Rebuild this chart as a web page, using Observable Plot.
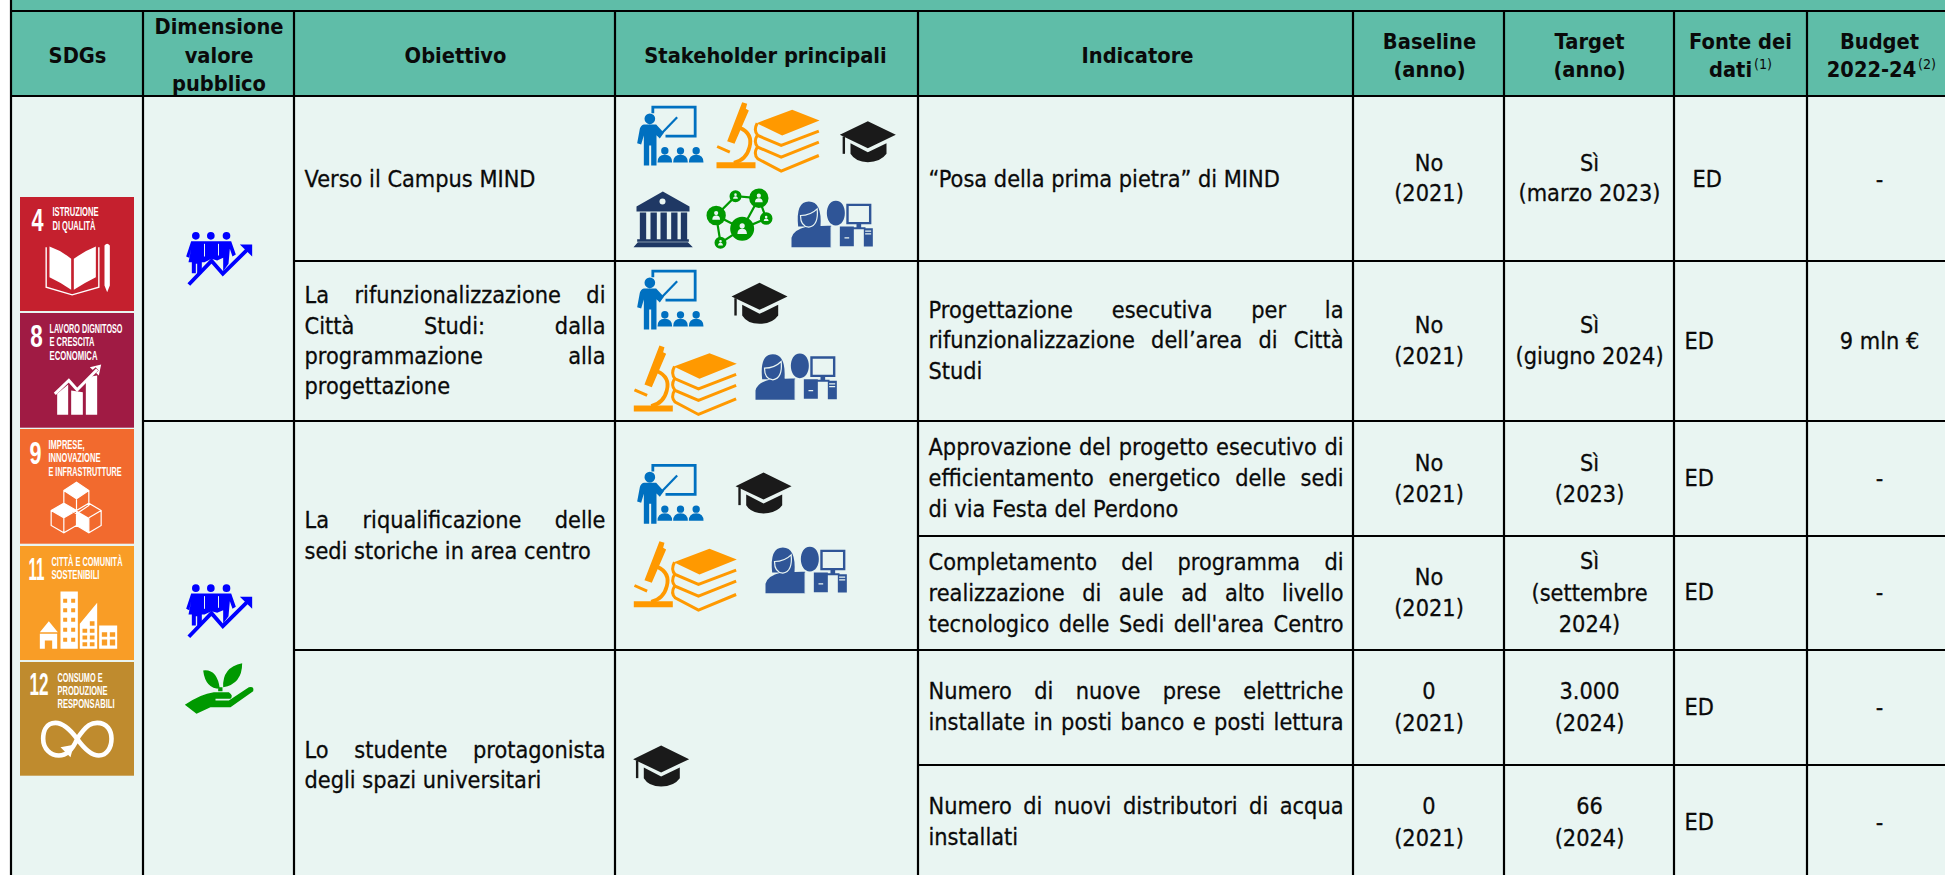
<!DOCTYPE html>
<html>
<head>
<meta charset="utf-8">
<script src="https://cdn.jsdelivr.net/npm/d3@7"></script>
<script src="https://cdn.jsdelivr.net/npm/@observablehq/plot@0.6"></script>
<style>html,body{margin:0;padding:0;background:#fff;overflow:hidden}svg{display:block}</style>
</head>
<body>
<div id="chart"></div>
<script>
// ---------- table content ----------
const headerLabels = [["SDGs"],["Dimensione","valore","pubblico"],["Obiettivo"],["Stakeholder principali"],["Indicatore"],["Baseline","(anno)"],["Target","(anno)"],["Fonte dei","dati"],["Budget","2022-24"]];
const headerNotes = ["(1)","(2)"];
const obiettivi = [["Verso il Campus MIND"],["La rifunzionalizzazione di","Città Studi: dalla","programmazione alla","progettazione"],["La riqualificazione delle","sedi storiche in area centro"],["Lo studente protagonista","degli spazi universitari"]];
const indicatori = [["“Posa della prima pietra” di MIND"],["Progettazione esecutiva per la","rifunzionalizzazione dell’area di Città","Studi"],["Approvazione del progetto esecutivo di","efficientamento energetico delle sedi","di via Festa del Perdono"],["Completamento del programma di","realizzazione di aule ad alto livello","tecnologico delle Sedi dell'area Centro"],["Numero di nuove prese elettriche","installate in posti banco e posti lettura"],["Numero di nuovi distributori di acqua","installati"]];
const baselineValues = [["No","(2021)"],["No","(2021)"],["No","(2021)"],["No","(2021)"],["0","(2021)"],["0","(2021)"]];
const targetValues = [["Sì","(marzo 2023)"],["Sì","(giugno 2024)"],["Sì","(2023)"],["Sì","(settembre","2024)"],["3.000","(2024)"],["66","(2024)"]];
const fonteValues = ["ED","ED","ED","ED","ED","ED"];
const budgetValues = ["-","9 mln €","-","-","-","-"];
const sdgNumbers = ["4","8","9","11","12"];
const sdgLabels = [["ISTRUZIONE","DI QUALITÀ"],["LAVORO DIGNITOSO","E CRESCITA","ECONOMICA"],["IMPRESE,","INNOVAZIONE","E INFRASTRUTTURE"],["CITTÀ E COMUNITÀ","SOSTENIBILI"],["CONSUMO E","PRODUZIONE","RESPONSABILI"]];

// ---------- layout ----------
const W = 1945, H = 875;
const FONT = "DejaVu Sans";
const BODY = 23;
const colLines = [10.5,142.5,293.5,614.5,917.5,1352.5,1503.5,1673.5,1806.5];
const headerBaselines = [[62],[33,62,90],[62],[62],[62],[48,76],[48,76],[48,76],[48,76]];
const headerCenters = [77,218.5,455,765,1137,1429,1589,1740,1879];
const obiettivoBaselines = [[186],[302,333,363,393],[527,558],[757,787]];
const indicatoreBaselines = [[186],[317,347,378],[454,485,516],[569,600,631],[698,729],[813,844]];
const baselineBaselines = [[170,200],[332,363],[470,501],[584,615],[698,730],[813,845]];
const targetBaselines = [[170,200],[332,363],[470,501],[568,600,631],[698,730],[813,845]];
const fonteBaselines = [186,348,485,599,714,829];
const fonteX = [1692,1684,1684,1684,1684,1684];
const justified = new Set(["La rifunzionalizzazione di","Città Studi: dalla","programmazione alla","La riqualificazione delle","Lo studente protagonista","Progettazione esecutiva per la","rifunzionalizzazione dell’area di Città","Approvazione del progetto esecutivo di","efficientamento energetico delle sedi","Completamento del programma di","realizzazione di aule ad alto livello","tecnologico delle Sedi dell'area Centro","Numero di nuove prese elettriche","installate in posti banco e posti lettura","Numero di nuovi distributori di acqua"]);

const tileBoxes = [[20,134,197,311,"#c5202e"],[20,134,313,427.7,"#a01b44"],[20,134,429,543.7,"#f26a2e"],[20,134,546,660,"#f99d26"],[20,134,662,775.7,"#bf8b2e"]];
const tileNumberLayout = [[37,230,12],[36,346,12.5],[35,463,12],[36,579,16],[38.5,694,19]];
const tileLabelLayout = [
 [[52,215.7,46],[52,229,43]],
 [[49,332,73],[49,345.7,45],[49,359,48]],
 [[48,448,36],[48,461.7,52],[48,475.7,73]],
 [[51,565,71],[51,578,48]],
 [[57,681,45],[57,694,50],[57,707.7,57]]
];

// ---------- text helpers ----------
const ctx = document.createElement("canvas").getContext("2d");
const measure = (s, size, weight) => { ctx.font = `${weight} ${size}px "${FONT}"`; return ctx.measureText(s).width; };
const fxNormal = 231 / measure("Verso il Campus MIND", BODY, "normal");
const fxBold = 129 / measure("Dimensione", 22, "bold");

function fitted(rows, size, weight, fx) {
  return function(index, scales, values, dims, context, next) {
    const g = next(index, scales, values, dims, context);
    g.querySelectorAll("text").forEach((el, i) => {
      const d = rows[index[i]];
      const natural = measure(d.t, size, weight);
      if (d.w) {
        const gaps = d.t.split(" ").length - 1;
        el.style.wordSpacing = `${(d.w / fx - natural) / gaps}px`;
        el.setAttribute("textLength", d.w);
      } else {
        el.setAttribute("textLength", natural * fx);
      }
      el.setAttribute("lengthAdjust", "spacingAndGlyphs");
    });
    return g;
  };
}
const textMark = (rows, anchor, size, weight, fx, heavy) =>
  Plot.text(rows, {x: "x", y: "y", text: "t", textAnchor: anchor, lineAnchor: "bottom", fill: "#0a0a0a", stroke: heavy ? "#0a0a0a" : "none", strokeWidth: heavy ? 0.3 : 0, fontFamily: FONT, fontSize: size, fontWeight: weight, render: fitted(rows, size, weight, fx)});

const centerRows = [], leftRows = [], boldRows = [], noteRows = [];
headerLabels.forEach((lines, c) => lines.forEach((t, i) => {
  let x = headerCenters[c];
  if (t === "dati") x = 1730;
  if (t === "2022-24") x = 1871;
  boldRows.push({t, x, y: headerBaselines[c][i]});
}));
noteRows.push({t: headerNotes[0], x: 1753.5, y: 68}, {t: headerNotes[1], x: 1917.5, y: 68});
obiettivi.forEach((lines, r) => lines.forEach((t, i) => leftRows.push({t, x: 304, y: obiettivoBaselines[r][i], w: justified.has(t) ? 301 : 0})));
indicatori.forEach((lines, r) => lines.forEach((t, i) => leftRows.push({t, x: 928, y: indicatoreBaselines[r][i], w: justified.has(t) ? 415 : 0})));
baselineValues.forEach((lines, r) => lines.forEach((t, i) => centerRows.push({t, x: 1428.5, y: baselineBaselines[r][i]})));
targetValues.forEach((lines, r) => lines.forEach((t, i) => centerRows.push({t, x: 1589, y: targetBaselines[r][i]})));
fonteValues.forEach((t, r) => leftRows.push({t, x: fonteX[r], y: fonteBaselines[r], w: 0}));
budgetValues.forEach((t, r) => centerRows.push({t, x: 1879, y: fonteBaselines[r]}));

// ---------- pictograms as custom dot symbols ----------
const BG = "#e9f5f2";
function pathSymbol(d) {
  const tokens = d.match(/[MLHVQCZO]|-?\d*\.?\d+/g);
  return {draw(c, size) {
    const k = Math.sqrt(size / Math.PI) / 30;
    let i = 0, px = 0, py = 0, cmd = "";
    const n = () => +tokens[i++] * k;
    while (i < tokens.length) {
      if (/[A-Z]/.test(tokens[i])) cmd = tokens[i++];
      if (cmd === "M") { px = n(); py = n(); c.moveTo(px, py); cmd = "L"; }
      else if (cmd === "L") { px = n(); py = n(); c.lineTo(px, py); }
      else if (cmd === "H") { px = n(); c.lineTo(px, py); }
      else if (cmd === "V") { py = n(); c.lineTo(px, py); }
      else if (cmd === "Q") { const a = n(), b = n(); px = n(); py = n(); c.quadraticCurveTo(a, b, px, py); }
      else if (cmd === "C") { const a = n(), b = n(), e = n(), f = n(); px = n(); py = n(); c.bezierCurveTo(a, b, e, f, px, py); }
      else if (cmd === "O") { const x = n(), y = n(), r = n(); c.moveTo(x + r, y); c.arc(x, y, r, 0, 2 * Math.PI); }
      else if (cmd === "Z") { c.closePath(); }
    }
  }};
}
const person = (x, y, r) => `O${x} ${y - r * .35} ${r * .3} M${x - r * .55} ${y + r * .6} Q${x - r * .55} ${y} ${x} ${y} Q${x + r * .55} ${y} ${x + r * .55} ${y + r * .6} Z`;
const circles = (list) => list.map(([x, y, r]) => `O${x} ${y} ${r}`).join(" ");
const rects = (list) => list.map(([x, y, w, h]) => `M${x} ${y} H${x + w} V${y + h} H${x} Z`).join(" ");
const aud = (x) => `O${x} 151 11 M${x - 22} 186 Q${x - 22} 163 ${x} 163 Q${x + 22} 163 ${x + 22} 186 Z`;

const iconShapes = {
  teacher: [
    {stroke: "#0070c0", sw: 2.8, d: "M157 38 V20 H284 V107 H195"},
    {stroke: "#0070c0", sw: 2.2, d: "M178 104 L230 50"},
    {fill: "#0070c0", d: "O148 55 16 M130 72 H167 L190 97 L178 114 L168 104 V195 H152 V135 H146 V195 H130 V105 L122 132 L110 128 L118 85 Q121 74 130 72 Z " + aud(193) + " " + aud(240) + " " + aud(287)}
  ],
  lab: [
    {fill: "#ff9900", d: "M425 5 L440 10 L436 25 L445 30 L402 130 L380 122 Z " + rects([[348, 185, 117, 18]]) + " M468 68 L575 28 L657 60 L545 105 Z"},
    {stroke: "#ff9900", sw: 3.8, d: "M418 82 Q458 100 447 140 Q438 178 400 187"},
    {stroke: "#ff9900", sw: 3, d: "M350 138 L388 155 M470 68 Q458 90 472 105 L542 135 L655 92 M470 105 Q458 125 472 140 L542 170 L655 125 M470 140 Q458 160 472 175 L542 212 L655 165"}
  ],
  cap: [
    {fill: "#1a1a1a", d: "M718 103 L802 62 L886 103 L802 143 Z M750 128 L802 155 L858 128 V160 Q840 185 802 185 Q765 185 750 160 Z"},
    {stroke: "#1a1a1a", sw: 2.4, d: "M730 108 V160"}
  ],
  bank: [
    {fill: "#1f3864", d: "M108 318 L187 273 L267 318 V333 H108 Z " + rects([[118, 336, 19, 80], [150, 336, 19, 80], [180, 336, 19, 80], [212, 336, 19, 80], [241, 336, 19, 80], [110, 416, 155, 8]]) + " M99 440 L112 425 H262 L277 440 Z"},
    {fill: BG, d: "O186 303 9"}
  ],
  network: [
    {stroke: "#009900", sw: 2.2, d: "M347 345 L405 287 L475 293 L425 385 L347 345 L360 427 L425 385 M475 293 L497 354 L425 385"},
    {fill: "#009900", d: circles([[425, 385, 36], [347, 345, 29], [475, 293, 29], [405, 287, 18], [497, 354, 19], [360, 427, 18]])},
    {fill: BG, d: [person(425, 385, 26), person(347, 345, 21), person(475, 293, 21), person(405, 287, 13), person(497, 354, 13), person(360, 427, 13)].join(" ")}
  ],
  staff: [
    {fill: "#2f5597", d: "M593 378 Q585 303 625 303 Q665 303 660 378 Z M573 440 V412 Q578 388 620 378 L682 376 H692 V440 Z M706 301 C742 301 742 375 706 375 C670 375 670 301 706 301 Z M695 378 H760 V437 H718 V378 Z " + rects([[755, 380, 40, 6], [768, 366, 14, 16], [790, 383, 27, 55]])},
    {stroke: "#2f5597", sw: 2.4, d: "M741 313 H809 V368 H741 Z"},
    {stroke: BG, sw: 1.2, d: "M600 345 Q630 345 650 325 Q655 375 625 380 Q600 378 600 345 Z M692 378 V440 M701 378 L706 435 L713 378 M732 412 H746 M794 392 H812 M794 400 H812"}
  ],
  people: [
    {fill: "#0000ff", d: circles([[586, 166, 11.5], [631, 166, 11.5], [678, 166, 11.5]]) + " M572 182 H692 L706 222 L696 228 L688 205 L684 250 L668 272 V232 L650 240 L633 235 L612 245 H604 V278 H590 V250 H586 V278 H574 V245 H564 L572 205 L566 232 L557 228 Z M718 192 H755 V228 Z"},
    {stroke: BG, sw: 1, d: "M612 190 V228 M654 190 V225"},
    {stroke: "#0000ff", sw: 3.8, d: "M565 312 L633 241 L667 280 L745 203"}
  ],
  hand: [
    {fill: "#009900", d: "M608 570 Q650 565 658 625 Q615 625 608 570 Z M725 548 Q725 610 668 620 Q665 560 725 548 Z M653 620 H666 V632 H653 Z M553 673 Q600 640 640 635 H685 Q700 645 690 655 H645 V660 H685 L745 620 Q762 616 758 632 L690 680 H630 L588 700 Z"}
  ],
  tileBook: [
    {fill: "#fff", d: "M147 198 Q182 210 212 235 V328 Q180 305 147 290 Z M220 235 Q255 210 286 198 V290 Q255 305 220 328 Z M312 195 Q320 185 328 195 V315 L320 335 L312 315 Z"},
    {stroke: "#fff", sw: 1.4, d: "M137 200 V320 L215 343 L295 320 V200"}
  ],
  tileGrowth: [
    {fill: "#fff", d: "M170 640 L203 612 V703 H170 Z M212 630 L247 635 V703 H212 Z M256 590 L290 585 V703 H256 Z M268 560 L302 552 L295 585 Z"},
    {stroke: "#a01b44", sw: 4.5, d: "M150 640 L205 590 L230 618 L290 565"},
    {stroke: "#fff", sw: 3, d: "M163 640 L205 600 L230 628 L290 567"}
  ],
  tileCubes: [
    {fill: "#fff", d: "M228 5 L265 30 L228 55 L190 30 Z M152 90 L190 68 L228 90 L190 112 Z M228 90 L265 112 V157 L228 135 Z"},
    {stroke: "#fff", sw: 1.2, d: "M190 30 L228 5 L265 30 V75 L228 100 L190 75 Z M190 30 L228 55 L265 30 M228 55 V100 M152 90 L190 68 L228 90 V135 L190 157 L152 135 Z M152 90 L190 112 L228 90 M190 112 V157 M228 90 L265 68 L302 90 V135 L265 157 L228 135 Z M265 112 L302 90 M265 112 V157"}
  ],
  tileCity: [
    {fill: "#fff", d: "M118 455 L145 422 L172 455 Z M118 460 H170 V505 H155 V480 H133 V505 H118 Z M180 333 H232 V505 H180 Z M238 505 V430 L290 367 V505 Z M296 435 H350 V505 H296 Z"},
    {fill: "#f99d26", d: rects([[188, 355, 12, 12], [212, 355, 12, 12], [188, 383, 12, 12], [212, 383, 12, 12], [188, 412, 12, 12], [212, 412, 12, 12], [188, 442, 12, 12], [212, 442, 12, 12], [188, 472, 12, 12], [212, 472, 12, 12], [246, 445, 14, 12], [268, 445, 14, 12], [246, 465, 14, 12], [268, 465, 14, 12], [246, 485, 14, 12], [268, 485, 14, 12], [268, 422, 14, 14], [304, 455, 16, 14], [328, 455, 16, 14], [304, 477, 16, 18], [328, 477, 16, 18]])}
  ],
  tileLoop: [
    {stroke: "#fff", sw: 4.6, d: "M230 775 C200 735 180 727 165 727 C135 727 128 755 128 775 C128 805 150 825 175 825 C195 825 215 810 230 775 C260 730 275 727 290 727 C320 727 333 750 333 775 C333 800 320 825 295 825 C275 825 255 810 230 775"},
    {fill: "#fff", d: "M180 800 L220 793 L210 830 Z"}
  ]
};
const iconPlacements = [
  ["people", 0, 180], ["people", 0, 532.3], ["hand", 0, 480],
  ["teacher", 600, 100], ["lab", 600, 100], ["cap", 600, 100], ["bank", 600, 100], ["network", 600, 100], ["staff", 600, 100],
  ["teacher", 600, 264], ["cap", 491.7, 261.7], ["lab", 517.3, 343.3], ["staff", 564, 252.7],
  ["teacher", 600, 458.3], ["cap", 495.7, 451.3], ["lab", 517.3, 539], ["staff", 574, 446],
  ["cap", 393.3, 724.3],
  ["tileBook", 0, 180], ["tileGrowth", 0, 180], ["tileCubes", 0, 480], ["tileCity", 0, 480], ["tileLoop", 0, 480]
].map(([icon, x, y]) => ({icon, x, y}));

const iconMarks = Object.entries(iconShapes).flatMap(([name, layers]) => {
  const at = iconPlacements.filter(d => d.icon === name);
  return layers.map(l => Plot.dot(at, {x: "x", y: "y", r: 10, symbol: pathSymbol(l.d), fill: l.fill ?? "none", stroke: l.stroke ?? "none", strokeWidth: l.sw ?? 0}));
});

// ---------- tiles ----------
const tileRows = tileBoxes.map(([x1, x2, y1, y2, c]) => ({x1, x2, y1, y2, c}));
const numberRows = sdgNumbers.map((t, i) => ({t, x: tileNumberLayout[i][0], y: tileNumberLayout[i][1], w: tileNumberLayout[i][2]}));
const labelRows = sdgLabels.flatMap((lines, i) => lines.map((t, j) => ({t, x: tileLabelLayout[i][j][0], y: tileLabelLayout[i][j][1], w: tileLabelLayout[i][j][2]})));
function squeeze(rows) {
  return function(index, scales, values, dims, context, next) {
    const g = next(index, scales, values, dims, context);
    g.querySelectorAll("text").forEach((el, i) => {
      el.setAttribute("textLength", rows[index[i]].w);
      el.setAttribute("lengthAdjust", "spacingAndGlyphs");
    });
    return g;
  };
}

// ---------- rules ----------
const vRows = colLines.map((x, i) => ({x, y1: i === 0 ? 0 : 11, y2: H}));
const hRows = [[10.5, 11], [95.5, 11], [260.5, 294], [420.5, 143], [535.5, 918], [649.5, 294], [764.5, 918]].map(([y, x1]) => ({y, x1, x2: W}));

const chart = Plot.plot({
  width: W, height: H, margin: 0,
  x: {domain: [0, W], range: [0, W], axis: null},
  y: {domain: [0, H], range: [0, H], axis: null},
  style: {background: "#fff", fontFamily: FONT},
  marks: [
    Plot.rect([{x1: 11, x2: W, y1: 96, y2: H}], {x1: "x1", x2: "x2", y1: "y1", y2: "y2", fill: BG}),
    Plot.rect([{x1: 11, x2: W, y1: 0, y2: 96}], {x1: "x1", x2: "x2", y1: "y1", y2: "y2", fill: "#5fbda8"}),
    Plot.rect(tileRows, {x1: "x1", x2: "x2", y1: "y1", y2: "y2", fill: "c"}),
    ...iconMarks,
    Plot.ruleX(vRows, {x: "x", y1: "y1", y2: "y2", stroke: "#000", strokeWidth: 2.2}),
    Plot.ruleY(hRows, {y: "y", x1: "x1", x2: "x2", stroke: "#000", strokeWidth: 2.2}),
    textMark(leftRows, "start", BODY, "normal", fxNormal, true),
    textMark(centerRows, "middle", BODY, "normal", fxNormal, true),
    textMark(boldRows, "middle", 22, "bold", fxBold, false),
    textMark(noteRows, "start", 14, "normal", fxNormal, false),
    Plot.text(numberRows, {x: "x", y: "y", text: "t", textAnchor: "middle", lineAnchor: "bottom", fill: "#fff", fontFamily: "Liberation Sans", fontWeight: "bold", fontSize: 32, render: squeeze(numberRows)}),
    Plot.text(labelRows, {x: "x", y: "y", text: "t", textAnchor: "start", lineAnchor: "bottom", fill: "#fff", fontFamily: "Liberation Sans", fontWeight: "bold", fontSize: 12, render: squeeze(labelRows)})
  ]
});
document.getElementById("chart").appendChild(chart);
</script>
</body>
</html>
